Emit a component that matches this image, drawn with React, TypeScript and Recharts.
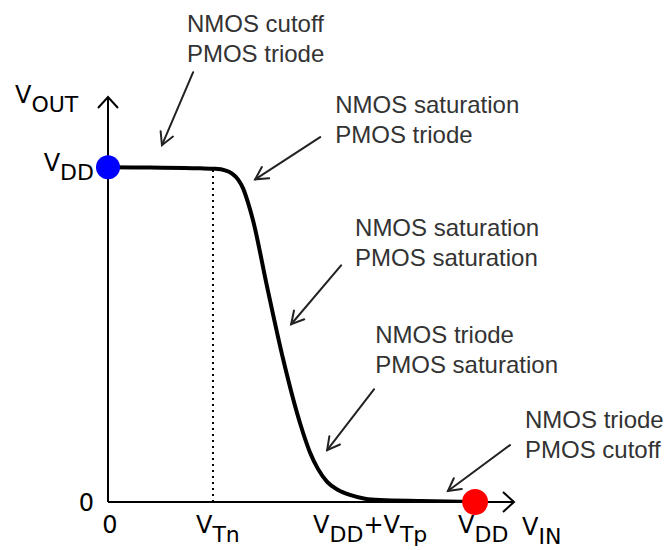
import { ComposedChart, Line, XAxis, YAxis, ReferenceLine, ReferenceDot } from 'recharts'

// all voltages normalised to VDD = 1
const VDD = 1
const VTN = 0.286
const VDD_PLUS_VTP = 0.605
const X_MAX = 1.106
const Y_MAX = 1.21

// transfer curve
const vin = [0, 0.114, 0.251, 0.292, 0.319, 0.338, 0.354, 0.368, 0.381, 0.395, 0.433, 0.477, 0.523, 0.55, 0.572, 0.597, 0.627, 0.659, 0.7, 0.741, 0.85, 1]
const vout = [1, 0.999, 0.997, 0.9955, 0.991, 0.981, 0.964, 0.937, 0.896, 0.842, 0.645, 0.427, 0.236, 0.149, 0.099, 0.06, 0.036, 0.021, 0.01, 0.006, 0.003, 0]

const xTicks = [0, VTN, VDD_PLUS_VTP, VDD]
const xTickLabels = ['0', 'V_{Tn}', 'V_{DD}+V_{Tp}', 'V_{DD}']
const yTicks = [0, VDD]
const yTickLabels = ['0', 'V_{DD}']

// operating regions, with the arrow pointing at the curve
const regionNotes = [
  ['NMOS cutoff', 'PMOS triode'],
  ['NMOS saturation', 'PMOS triode'],
  ['NMOS saturation', 'PMOS saturation'],
  ['NMOS triode', 'PMOS saturation'],
  ['NMOS triode', 'PMOS cutoff'],
]
const noteX = [0.215, 0.619, 0.673, 0.728, 1.136]
const noteY = [1.403, 1.161, 0.794, 0.475, 0.221]
const arrowFromX = [0.232, 0.578, 0.635, 0.725, 1.095]
const arrowFromY = [1.284, 1.09, 0.707, 0.337, 0.17]
const arrowToX = [0.147, 0.401, 0.499, 0.597, 0.926]
const arrowToY = [1.066, 0.964, 0.531, 0.155, 0.033]

const data = vin.map((v, i) => ({ vin: v, vout: vout[i] }))

const AXIS_FONT = 'DejaVu Sans, sans-serif'
const NOTE_FONT = 'Liberation Sans, Arial, sans-serif'
const SUB_SHIFT = 9

function rich(label: string) {
  const parts = label.split(/_\{([^}]*)\}/)
  const out: any[] = []
  let lowered = false
  parts.forEach((part, i) => {
    if (!part) return
    const isSub = i % 2 === 1
    let dy = 0
    if (isSub && !lowered) {
      dy = SUB_SHIFT
      lowered = true
    } else if (!isSub && lowered) {
      dy = -SUB_SHIFT
      lowered = false
    }
    out.push(
      <tspan key={i} dy={dy} fontSize={isSub ? 22 : 24}>
        {part}
      </tspan>
    )
  })
  return out
}

function XTick(props: any) {
  const { x, y, payload } = props
  const label = xTickLabels[xTicks.indexOf(payload.value)] ?? ''
  const plain = !label.includes('_')
  return (
    <text
      x={plain ? x + 2 : x - 17}
      y={y + 31}
      textAnchor={plain ? 'middle' : 'start'}
      fontFamily={AXIS_FONT}
      fontSize={24}
      fill="#000"
    >
      {rich(label)}
    </text>
  )
}

function YTick(props: any) {
  const { x, y, payload } = props
  const label = yTickLabels[yTicks.indexOf(payload.value)] ?? ''
  const plain = !label.includes('_')
  return (
    <text x={x - 14} y={y + (plain ? 9 : 4)} textAnchor="end" fontFamily={AXIS_FONT} fontSize={24} fill="#000">
      {rich(label)}
    </text>
  )
}

function Arrow(props: any) {
  const { x1, y1, x2, y2 } = props
  const a = Math.atan2(y2 - y1, x2 - x1)
  const len = 14
  const spread = 0.5
  const p1 = [x2 - len * Math.cos(a - spread), y2 - len * Math.sin(a - spread)]
  const p2 = [x2 - len * Math.cos(a + spread), y2 - len * Math.sin(a + spread)]
  return (
    <g stroke="#222" strokeWidth={2} fill="none" strokeLinecap="round">
      <line x1={x1} y1={y1} x2={x2} y2={y2} />
      <polyline points={`${p1[0]},${p1[1]} ${x2},${y2} ${p2[0]},${p2[1]}`} />
    </g>
  )
}

function noteShape(lines: string[]) {
  return (p: any) => (
    <text x={p.cx} y={p.cy} fontFamily={NOTE_FONT} fontSize={24} fill="#333">
      {lines.map((t, i) => (
        <tspan key={i} x={p.cx} dy={i === 0 ? 0 : 30}>
          {t}
        </tspan>
      ))}
    </text>
  )
}

function XArrowHead(p: any) {
  const { cx, cy } = p
  return (
    <g>
      <polyline points={`${cx - 11},${cy - 10} ${cx},${cy} ${cx - 11},${cy + 10}`} stroke="#000" strokeWidth={2} fill="none" />
      <text x={cx + 8} y={cy + 33} fontFamily={AXIS_FONT} fontSize={24} fill="#000">
        {rich('V_{IN}')}
      </text>
    </g>
  )
}

function YArrowHead(p: any) {
  const { cx, cy } = p
  return (
    <g>
      <polyline points={`${cx - 10},${cy + 11} ${cx},${cy} ${cx + 10},${cy + 11}`} stroke="#000" strokeWidth={2} fill="none" />
      <text x={cx - 93} y={cy + 6} fontFamily={AXIS_FONT} fontSize={24} fill="#000">
        {rich('V_{OUT}')}
      </text>
    </g>
  )
}

export default function App() {
  return (
    <div style={{ position: 'absolute', left: 0, top: 0, background: '#fff' }}>
      <ComposedChart width={668} height={550} data={data} margin={{ top: 97, right: 154, bottom: 0, left: 48 }}>
        <XAxis
          type="number"
          dataKey="vin"
          domain={[0, X_MAX]}
          ticks={xTicks}
          allowDataOverflow
          height={48}
          tickLine={false}
          tickSize={0}
          tickMargin={0}
          axisLine={{ stroke: '#000', strokeWidth: 2 }}
          tick={<XTick />}
        />
        <YAxis
          type="number"
          domain={[0, Y_MAX]}
          ticks={yTicks}
          allowDataOverflow
          width={60}
          tickLine={false}
          tickSize={0}
          tickMargin={0}
          axisLine={{ stroke: '#000', strokeWidth: 2 }}
          tick={<YTick />}
        />
        <ReferenceLine
          segment={[{ x: VTN, y: 0 }, { x: VTN, y: 0.995 }]}
          stroke="#000"
          strokeWidth={2}
          strokeDasharray="2 4"
        />
        <Line
          type="monotone"
          dataKey="vout"
          stroke="#000"
          strokeWidth={4}
          dot={false}
          activeDot={false}
          isAnimationActive={false}
        />
        <ReferenceDot x={X_MAX} y={0} r={0} ifOverflow="visible" shape={XArrowHead} />
        <ReferenceDot x={0} y={Y_MAX} r={0} ifOverflow="visible" shape={YArrowHead} />
        <ReferenceDot x={0} y={VDD} r={12} fill="#0000ff" stroke="none" ifOverflow="visible" />
        <ReferenceDot x={VDD} y={0} r={13} fill="#ff0000" stroke="none" ifOverflow="visible" />
        {regionNotes.map((lines, i) => (
          <ReferenceLine
            key={`a${i}`}
            segment={[
              { x: arrowFromX[i], y: arrowFromY[i] },
              { x: arrowToX[i], y: arrowToY[i] },
            ]}
            ifOverflow="visible"
            shape={Arrow}
          />
        ))}
        {regionNotes.map((lines, i) => (
          <ReferenceDot
            key={`n${i}`}
            x={noteX[i]}
            y={noteY[i]}
            r={0}
            ifOverflow="visible"
            shape={noteShape(lines)}
          />
        ))}
      </ComposedChart>
    </div>
  )
}
